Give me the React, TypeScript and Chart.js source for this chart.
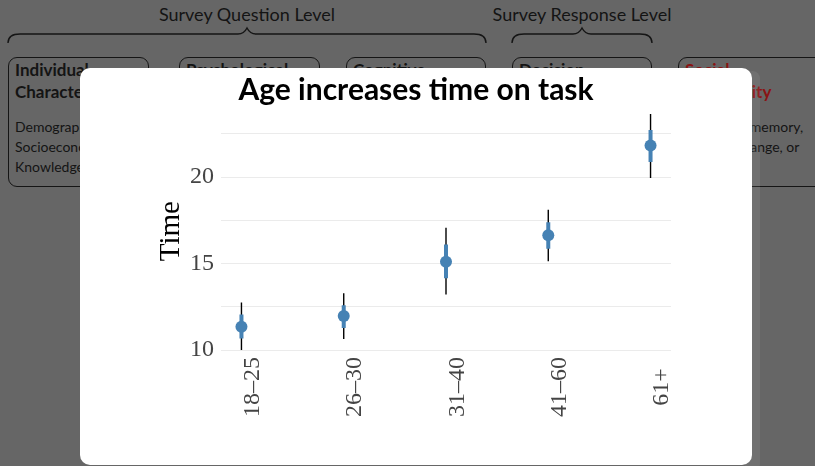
import React, { useEffect, useRef } from "react";
import { Chart, registerables } from "chart.js";

Chart.register(...registerables);

// ---- data ----
const categories = ["18–25", "26–30", "31–40", "41–60", "61+"];
const means = [11.34, 11.96, 15.11, 16.64, 21.83];
const outerLow = [9.9, 10.63, 13.21, 15.14, 19.95];
const outerHigh = [12.75, 13.28, 17.07, 18.12, 23.65];
const innerLow = [10.67, 11.27, 14.15, 15.86, 20.87];
const innerHigh = [12.06, 12.59, 16.1, 17.39, 22.73];
const yGridValues = [10, 12.5, 15, 17.5, 20, 22.5];
const yTickLabels = [10, 15, 20];

const chartTitle = "Age increases time on task";
const yTitle = "Time";

// background diagram text
const levelLabels = ["Survey Question Level", "Survey Response Level"];
const boxHeadings = [
  ["Individual", "Characteristics"],
  ["Psychological", "Factors"],
  ["Cognitive", "Processes"],
  ["Decision", "Making"],
  ["Social", "Desirability"],
];
const boxBodies = [
  ["Demographics,", "Socioeconomic status,", "Knowledge"],
  ["Motivation,", "Attitudes,", "Personality"],
  ["Comprehension,", "Retrieval,", "Judgement"],
  ["Satisficing,", "Effort,", "Strategy"],
  ["Attention, memory,", "Interest change, or", "Fatigue"],
];

const STEEL = "#4682B4";

const errorBarsPlugin = {
  id: "errorBars",
  beforeDatasetsDraw(chart: any) {
    const { ctx, chartArea, scales } = chart;
    const x = scales.x;
    const y = scales.y;
    ctx.save();
    ctx.beginPath();
    ctx.rect(chartArea.left, chartArea.top, chartArea.right - chartArea.left, chartArea.bottom - chartArea.top);
    ctx.clip();
    categories.forEach((_, i) => {
      const px = x.getPixelForValue(i);
      ctx.strokeStyle = "#000";
      ctx.lineWidth = 1.4;
      ctx.beginPath();
      ctx.moveTo(px, y.getPixelForValue(outerLow[i]));
      ctx.lineTo(px, y.getPixelForValue(outerHigh[i]));
      ctx.stroke();
      ctx.strokeStyle = STEEL;
      ctx.lineWidth = 4;
      ctx.beginPath();
      ctx.moveTo(px, y.getPixelForValue(innerLow[i]));
      ctx.lineTo(px, y.getPixelForValue(innerHigh[i]));
      ctx.stroke();
    });
    ctx.restore();
  },
};

const xLabelsPlugin = {
  id: "xLabels",
  afterDraw(chart: any) {
    const { ctx, chartArea, scales } = chart;
    const x = scales.x;
    ctx.save();
    ctx.font = "24px 'Liberation Serif'";
    ctx.fillStyle = "#444";
    ctx.textAlign = "center";
    ctx.textBaseline = "alphabetic";
    categories.forEach((c, i) => {
      const px = x.getPixelForValue(i);
      ctx.save();
      ctx.translate(px + 17.5, chartArea.bottom + 37);
      ctx.rotate(-Math.PI / 2);
      ctx.fillText(c, 0, 0);
      ctx.restore();
    });
    ctx.restore();
  },
};

function ChartCanvas() {
  const ref = useRef<HTMLCanvasElement | null>(null);
  useEffect(() => {
    let chart: Chart | null = null;
    let cancelled = false;
    const make = () => {
      if (cancelled || !ref.current) return;
      chart = new Chart(ref.current, {
        type: "scatter",
        data: {
          datasets: [
            {
              data: means.map((m, i) => ({ x: i, y: m })),
              backgroundColor: STEEL,
              borderWidth: 0,
              pointRadius: 6,
              pointHoverRadius: 6,
            },
          ],
        },
        options: {
          responsive: false,
          animation: false,
          events: [],
          layout: { padding: 0 },
          plugins: {
            legend: { display: false },
            tooltip: { enabled: false },
            title: {
              display: true,
              text: chartTitle,
              color: "#000",
              font: { family: "Lato", size: 30, weight: "bold", lineHeight: 1.2 },
              padding: { top: 4, bottom: 4.3 },
            },
          },
          scales: {
            x: {
              type: "linear",
              min: -0.2,
              max: 4.2,
              grid: { display: false },
              border: { display: false },
              ticks: { display: false },
              afterBuildTicks: (s: any) => {
                s.ticks = categories.map((_, i) => ({ value: i }));
              },
              afterFit: (s: any) => {
                s.height = 115;
              },
            },
            y: {
              min: 10,
              max: 23.75,
              afterBuildTicks: (s: any) => {
                s.ticks = yGridValues.map((v) => ({ value: v }));
              },
              afterFit: (s: any) => {
                s.width = 141;
              },
              grid: { color: "#ebebeb", lineWidth: 1, drawTicks: false },
              border: { display: false },
              ticks: {
                padding: 7,
                color: "#444",
                font: { family: "'Liberation Serif'", size: 24 },
                callback: (v: any) => (yTickLabels.includes(Number(v)) ? String(v) : ""),
              },
              title: {
                display: true,
                text: yTitle,
                color: "#000",
                font: { family: "'Liberation Serif'", size: 29, lineHeight: 1.2 },
                padding: { top: 73.5, bottom: 0 },
              },
            },
            yRight: {
              position: "right",
              min: 0,
              max: 1,
              grid: { display: false },
              border: { display: false },
              ticks: { display: false },
              afterFit: (s: any) => {
                s.width = 81;
              },
            },
          },
        } as any,
        plugins: [errorBarsPlugin, xLabelsPlugin],
      });
    };
    const fontsReady = (document as any).fonts
      ? Promise.all([
          (document as any).fonts.load("bold 30px Lato"),
          (document as any).fonts.load("24px 'Liberation Serif'"),
        ]).catch(() => null)
      : Promise.resolve(null);
    fontsReady.then(make);
    return () => {
      cancelled = true;
      if (chart) chart.destroy();
    };
  }, []);
  return <canvas ref={ref} width={672} height={397} style={{ width: 672, height: 397, display: "block" }} />;
}

function Brace({ x1, x2, xm }: { x1: number; x2: number; xm: number }) {
  const d = `M ${x1} 43 Q ${x1} 34 ${x1 + 12} 34 L ${xm - 9} 34 Q ${xm - 3} 34 ${xm} 28 Q ${xm + 3} 34 ${xm + 9} 34 L ${x2 - 12} 34 Q ${x2} 34 ${x2} 43`;
  return <path d={d} fill="none" stroke="#151515" strokeWidth={1.4} />;
}

const boxX = [
  [8, 141],
  [179, 141],
  [346, 140],
  [512, 140],
  [678, 150],
];

export default function App() {
  return (
    <div
      style={{
        position: "fixed",
        left: 0,
        top: 0,
        width: 815,
        height: 466,
        background: "#666666",
        overflow: "hidden",
        fontFamily: "Lato, 'Open Sans', sans-serif",
        color: "#141414",
      }}
    >
      <div style={{ position: "absolute", left: 97, top: 3, width: 300, textAlign: "center", fontSize: 18, lineHeight: "22px" }}>
        {levelLabels[0]}
      </div>
      <div style={{ position: "absolute", left: 432, top: 3, width: 300, textAlign: "center", fontSize: 18, lineHeight: "22px" }}>
        {levelLabels[1]}
      </div>
      <svg width={815} height={60} style={{ position: "absolute", left: 0, top: 0 }}>
        <Brace x1={8} x2={486} xm={247} />
        <Brace x1={512} x2={652} xm={582} />
      </svg>
      {boxX.map(([left, width], i) => (
        <div
          key={i}
          style={{
            position: "absolute",
            left,
            top: 57,
            width,
            height: 130,
            boxSizing: "border-box",
            border: "1.4px solid #151515",
            borderRadius: 9,
          }}
        >
          <div
            style={{
              position: "absolute",
              left: 6,
              top: 1,
              fontSize: 17,
              fontWeight: 700,
              lineHeight: "21.5px",
              whiteSpace: "nowrap",
              color: i === 4 ? "#8a1414" : "#141414",
            }}
          >
            {boxHeadings[i].map((h, k) => (
              <div key={k}>{h}</div>
            ))}
          </div>
          <div
            style={{
              position: "absolute",
              left: 6,
              top: 59,
              fontSize: 14,
              lineHeight: "20px",
              whiteSpace: "nowrap",
            }}
          >
            {boxBodies[i].map((b, k) => (
              <div key={k}>{b}</div>
            ))}
          </div>
        </div>
      ))}
      <div
        style={{
          position: "absolute",
          left: 745,
          top: 71,
          width: 15,
          height: 400,
          background: "rgba(255,255,255,0.07)",
          borderRadius: 10,
        }}
      />
      <div
        style={{
          position: "absolute",
          left: 80,
          top: 68,
          width: 672,
          height: 397,
          background: "#ffffff",
          borderRadius: 10,
          overflow: "hidden",
        }}
      >
        <ChartCanvas />
      </div>
    </div>
  );
}
